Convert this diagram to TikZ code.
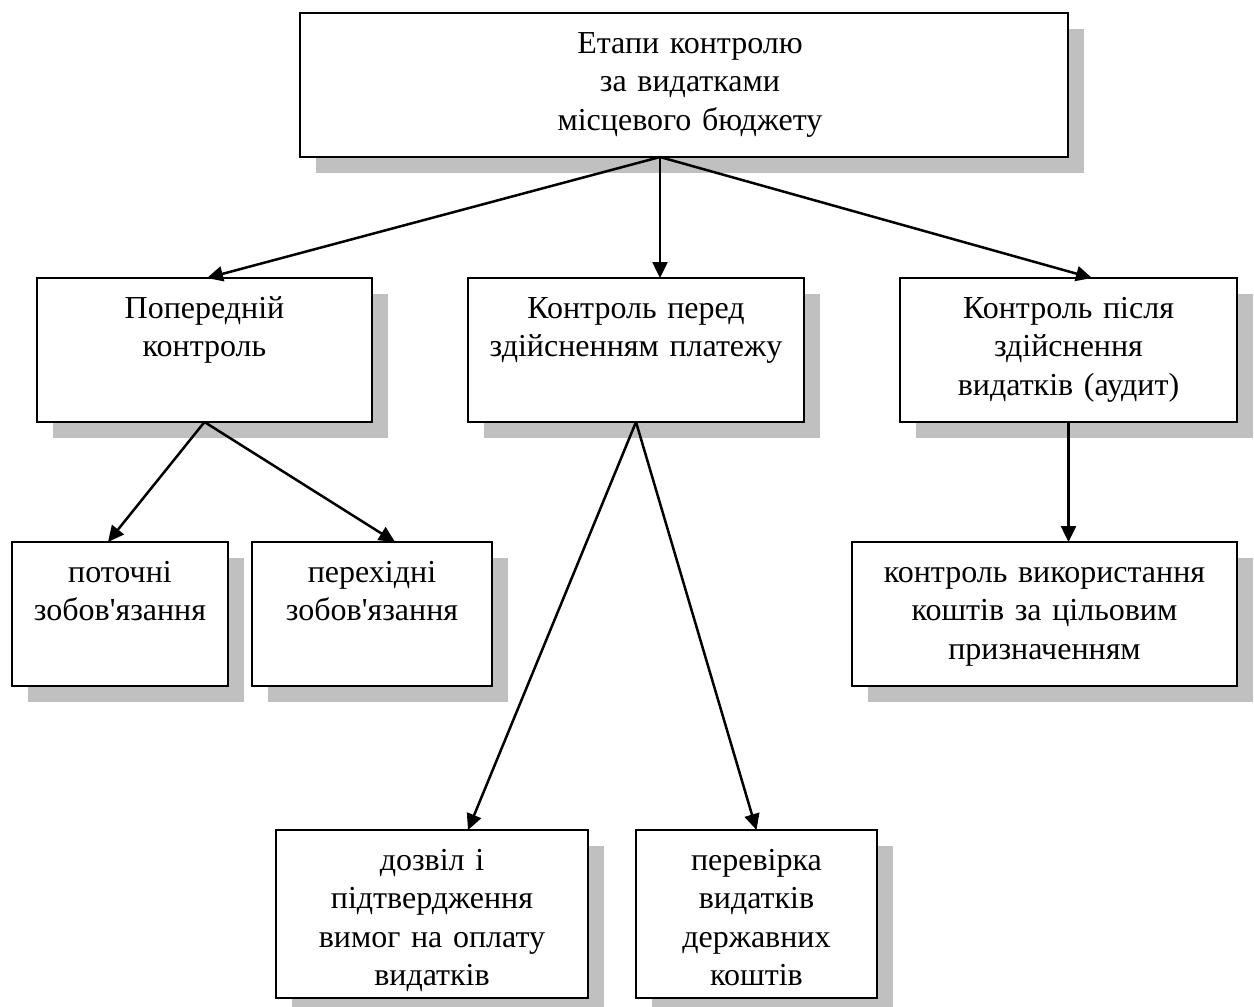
\documentclass[tikz,border=0pt]{standalone}
\usepackage{fontspec}
\setmainfont{Liberation Serif}
\usetikzlibrary{shadows,arrows.meta}
\definecolor{shadowgray}{HTML}{C0C0C0}
\begin{document}
\begin{tikzpicture}[x=0.5pt,y=-0.5pt,
  boxnode/.style={draw, line width=1.2pt, fill=white, inner sep=0pt, outer sep=0pt,
    align=center, anchor=north west, text height=20pt, text depth=52pt,
    font=\fontsize{16pt}{19.25pt}\selectfont,
    general shadow={fill=shadowgray, shadow xshift=8pt, shadow yshift=-8pt}},
  tallbox/.style={text depth=64pt},
  conn/.style={line width=1.25pt, -{Triangle[length=8pt,width=7.5pt]}}]
\useasboundingbox (0,0) rectangle (1254,1007);
% top
\node[boxnode, text width=384pt] (A) at (300,13) {\hspace*{6pt}Етапи контролю\\\hspace*{6pt}за видатками\\\hspace*{6pt}місцевого бюджету};
% second level
\node[boxnode, text width=167.5pt] (B1) at (37,278) {Попередній\\контроль};
\node[boxnode, text width=168pt] (B2) at (468,278) {Контроль перед\\здійсненням платежу};
\node[boxnode, text width=168.5pt] (B3) at (900,278) {Контроль після\\здійснення\\видатків (аудит)};
% third level
\node[boxnode, text width=108pt] (C1) at (12,542) {поточні\\зобов\textquotesingle язання};
\node[boxnode, text width=120pt] (C2) at (252,542) {перехідні\\зобов\textquotesingle язання};
\node[boxnode, text width=192.5pt] (C3) at (852,542) {контроль використання\\коштів за цільовим\\призначенням};
% bottom
\node[boxnode, tallbox, text width=156pt] (D1) at (276,830) {дозвіл і\\підтвердження\\вимог на оплату\\видатків};
\node[boxnode, tallbox, text width=120.5pt] (D2) at (636,830) {перевірка\\видатків\\державних\\коштів};
% connectors
\draw[conn] ([xshift=-12pt]A.south) -- ([xshift=1.25pt]B1.north);
\draw[conn] ([xshift=-12pt]A.south) -- ([xshift=12pt]B2.north);
\draw[conn] ([xshift=-12pt]A.south) -- ([xshift=11.75pt]B3.north);
\draw[conn] (B1.south) -- ([xshift=-6pt]C1.north);
\draw[conn] (B1.south) -- ([xshift=11.5pt]C2.north);
\draw[conn] (B2.south) -- ([xshift=18pt]D1.north);
\draw[conn] (B2.south) -- (D2.north);
\draw[conn] (B3.south) -- (B3.south |- C3.north);
\end{tikzpicture}
\end{document}
